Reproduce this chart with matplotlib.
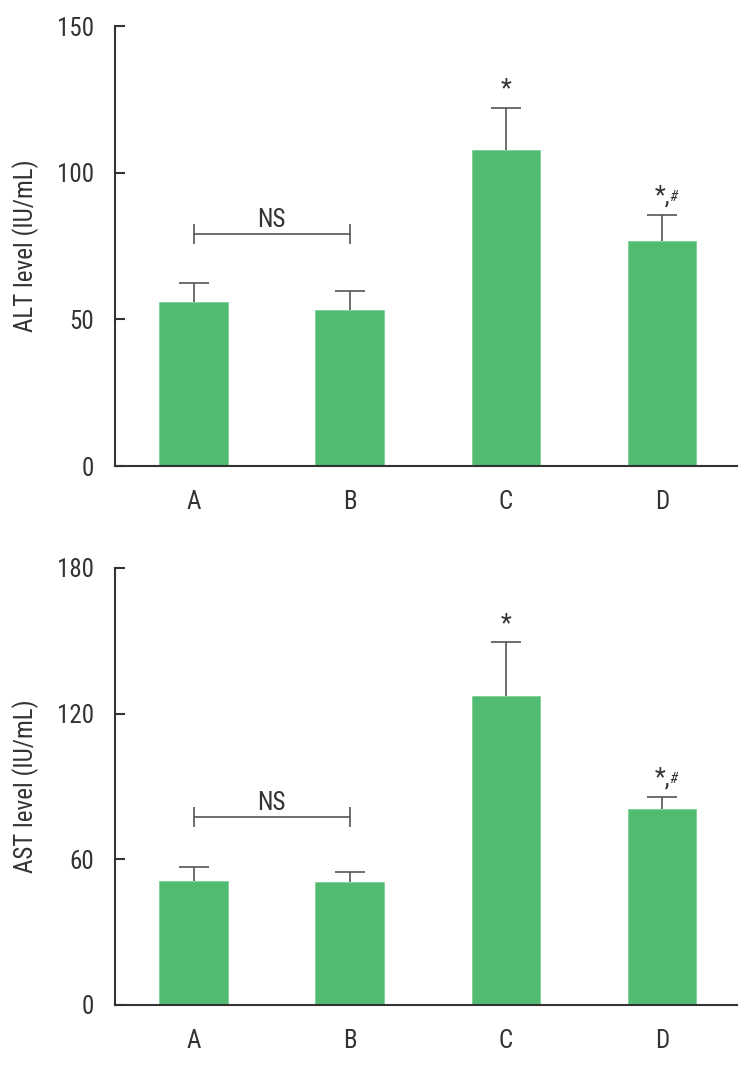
import matplotlib
matplotlib.use('Agg')
import matplotlib.pyplot as plt
from matplotlib import font_manager

# groups and values
groups = ['A', 'B', 'C', 'D']

alt_mean = [56, 53.2, 107.8, 76.7]
alt_err = [6.5, 6.4, 14.4, 8.9]
alt_marks = ['', '', '*', '*,']
alt_ns_level = 79
alt_ticks = [0, 50, 100, 150]

ast_mean = [51.1, 50.8, 127.2, 80.6]
ast_err = [5.9, 3.9, 22.2, 5.2]
ast_marks = ['', '', '*', '*,']
ast_ns_level = 77.6
ast_ticks = [0, 60, 120, 180]

# pick a narrow face if there is one
installed = {f.name for f in font_manager.fontManager.ttflist}
family = 'DejaVu Sans'
for cand in ['Roboto Condensed', 'Liberation Sans Narrow', 'Roboto', 'Liberation Sans']:
    if cand in installed:
        family = cand
        break
plt.rcParams['font.family'] = [family, 'DejaVu Sans']

GREEN = '#50bb71'
AXC = '#333333'
ERRC = '#555555'


def panel(ax, mean, err, marks, ns_level, ticks, ylabel):
    x = list(range(len(groups)))
    ax.bar(x, mean, width=0.44, color=GREEN, edgecolor='#7fcf97', linewidth=0.6, zorder=2)
    _, caps, _ = ax.errorbar(x, mean, yerr=[[0] * len(err), err], fmt='none', ecolor=ERRC,
                             elinewidth=1.2, capsize=10.5, capthick=1.2, zorder=3)
    caps[0].set_visible(False)  # only the upper cap
    for i, (m, e, s) in enumerate(zip(mean, err, marks)):
        if not s:
            continue
        t = ax.annotate(s, xy=(i, m + e), xytext=(0, 4.5), textcoords='offset points',
                        ha='center', va='bottom', fontsize=18, color=AXC)
        if s.endswith(','):
            ax.annotate('#', xy=(1, 1), xycoords=t, xytext=(0, -4), textcoords='offset points',
                        ha='left', va='top', fontsize=11, color=AXC, style='italic')
    # NS bracket between A and B
    ax.plot([0, 1], [ns_level, ns_level], color=ERRC, lw=1.2, marker='|', ms=14, mew=1.2, zorder=3)
    ax.annotate('NS', xy=(0.5, ns_level), xytext=(0, 5), textcoords='offset points',
                ha='center', va='baseline', fontsize=18, color=AXC)

    ax.set_xlim(-0.503, 3.48)
    ax.set_ylim(ticks[0], ticks[-1])
    ax.set_yticks(ticks)
    ax.set_xticks(x)
    ax.set_xticklabels(groups)
    for side in ['top', 'right']:
        ax.spines[side].set_visible(False)
    for side in ['left', 'bottom']:
        ax.spines[side].set_color(AXC)
        ax.spines[side].set_linewidth(1.5)
    ax.tick_params(axis='y', direction='in', length=7, width=1.5, color=AXC,
                   labelsize=18, labelcolor=AXC, pad=15)
    ax.tick_params(axis='x', length=0, labelsize=18, labelcolor=AXC, pad=17)
    ax.set_ylabel(ylabel, fontsize=18, color=AXC)
    ax.yaxis.set_label_coords(-0.122, 0.5)


fig = plt.figure(figsize=(7.52, 10.65), dpi=100)
ax1 = fig.add_axes([115 / 752, 1 - 466 / 1065, 622 / 752, 440 / 1065])
ax2 = fig.add_axes([115 / 752, 1 - 1005 / 1065, 622 / 752, 437 / 1065])

panel(ax1, alt_mean, alt_err, alt_marks, alt_ns_level, alt_ticks, 'ALT level (IU/mL)')
panel(ax2, ast_mean, ast_err, ast_marks, ast_ns_level, ast_ticks, 'AST level (IU/mL)')

fig.savefig('out.png', dpi=100)
